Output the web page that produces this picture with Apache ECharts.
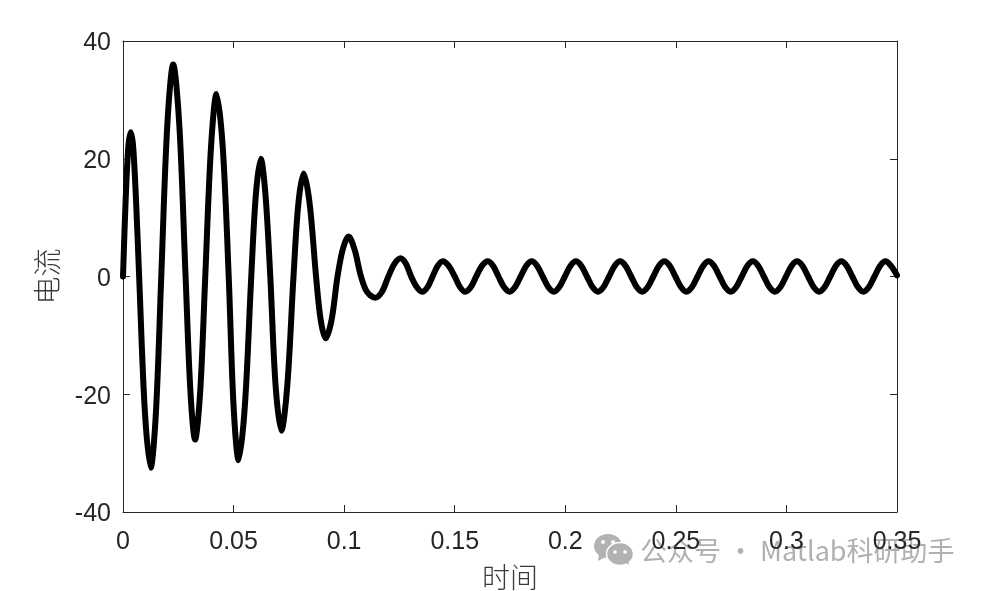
<!DOCTYPE html>
<html><head><meta charset="utf-8">
<style>html,body{margin:0;padding:0;background:#fff}#c{width:989px;height:591px}</style>
<script src="https://cdn.jsdelivr.net/npm/echarts@6/dist/echarts.min.js"></script>
</head><body><div id="c"></div>
<script>
const timeValues = [0,.0012,.0024,.0035,.0046,.006,.0073,.0099,.0125,.0149,.0173,.0200,.0227,.0255,.0283,.0305,.0326,.0349,.0372,.0398,.0423,.0451,.0478,.05,.0523,.0551,.058,.0601,.0623,.0644,.0666,.069,.0716,.0743,.0771,.0793,.0817,.0844,.0873,.0894,.0916,.0943,.097,.0995,.102,.1047,.1074,.1097,.1118,.1142,.1171,.12,.1228,.1255,.1279,.1303,.1328,.1353,.1377,.14,.1423,.1446,.1473,.15,.1524,.1548,.1573,.1597,.1623,.1649,.1674,.1698,.1723,.1748,.1773,.1798,.1823,.1848,.1873,.1898,.1923,.1948,.1973,.1998,.2023,.2048,.2073,.2098,.2123,.2148,.2173,.2198,.2223,.2248,.2273,.2298,.2323,.2348,.2373,.2398,.2423,.2448,.2473,.2498,.2523,.2548,.2573,.2598,.2623,.2648,.2673,.2698,.2723,.2748,.2773,.2798,.2823,.2848,.2873,.2898,.2923,.2948,.2973,.2998,.3023,.3048,.3073,.3098,.3123,.3148,.3173,.3198,.3223,.3248,.3273,.3298,.3323,.3348,.3373,.3398,.3423,.3448,.3473,.35];
const currentValues = [0,13,22,24.5,22,12,0,-23,-32.5,-23,0,25.5,36,25.5,0,-19.6,-27.7,-19.6,0,22,31,22,0,-22,-31.2,-22,0,14,20,14,0,-18.5,-26.2,-18.5,0,12.4,17.5,12.4,0,-7.4,-10.5,-7.4,0,4.8,6.8,4.6,0.3,-2.2,-3.2,-3.6,-2.6,0,2.2,3.1,2.2,0,-1.8,-2.6,-1.8,0,1.8,2.6,1.8,0,-1.8,-2.6,-1.8,0,1.8,2.6,1.8,0,-1.8,-2.6,-1.8,0,1.8,2.6,1.8,0,-1.8,-2.6,-1.8,0,1.8,2.6,1.8,0,-1.8,-2.6,-1.8,0,1.8,2.6,1.8,0,-1.8,-2.6,-1.8,0,1.8,2.6,1.8,0,-1.8,-2.6,-1.8,0,1.8,2.6,1.8,0,-1.8,-2.6,-1.8,0,1.8,2.6,1.8,0,-1.8,-2.6,-1.8,0,1.8,2.6,1.8,0,-1.8,-2.6,-1.8,0,1.8,2.6,1.8,0,-1.8,-2.6,-1.8,0,1.8,2.6,1.8,0.2];
const xAxisName = '时间';
const yAxisName = '电流';
const watermarkText = '公众号 · Matlab科研助手';

const ink = '#262626', grey = '#b2b2b2';
const tickFont = {color: ink, fontSize: 25, fontFamily: '"Liberation Sans", Arial, sans-serif'};
const nameFont = {color: '#3a3a3a', fontSize: 28, fontFamily: '"Noto Sans CJK SC"', fontWeight: 300};
const line = {show: true, onZero: false, lineStyle: {color: ink, width: 1}};
const tick = {show: true, inside: true, length: 7, lineStyle: {color: ink, width: 1}};

const chart = echarts.init(document.getElementById('c'), null, {renderer: 'canvas'});
const xBase = {type: 'value', min: 0, max: 0.35, interval: 0.05, splitLine: {show: false}, axisLine: line, axisTick: tick};
const yBase = {type: 'value', min: -40, max: 40, interval: 20, splitLine: {show: false}, axisLine: line, axisTick: tick};
chart.setOption({
  animation: false,
  backgroundColor: '#fff',
  grid: {left: 123, right: 92, top: 41, bottom: 79, containLabel: false, outerBoundsMode: 'none'},
  xAxis: [
    Object.assign({}, xBase, {position: 'bottom', name: xAxisName, nameLocation: 'middle', nameGap: 51, nameTextStyle: nameFont,
      axisLabel: Object.assign({margin: 18, hideOverlap: false}, tickFont)}),
    Object.assign({}, xBase, {position: 'top', axisLabel: {show: false}})
  ],
  yAxis: [
    Object.assign({}, yBase, {position: 'left', name: yAxisName, nameLocation: 'middle', nameGap: 62, nameRotate: 90, nameTextStyle: nameFont,
      axisLabel: Object.assign({margin: 12, verticalAlign: 'top', padding: [-10, 0, 0, 0]}, tickFont)}),
    Object.assign({}, yBase, {position: 'right', axisLabel: {show: false}})
  ],
  series: [{
    type: 'line',
    xAxisIndex: 0, yAxisIndex: 0,
    data: timeValues.map((t, i) => [t, currentValues[i]]),
    smooth: 0.33,
    showSymbol: false,
    clip: false,
    lineStyle: {color: '#000', width: 6, join: 'round', cap: 'round'},
    z: 3
  }],
  graphic: [
    {type: 'group', z: 100, children: [
      {type: 'ellipse', shape: {cx: 608, cy: 546, rx: 14, ry: 12}, style: {fill: grey}},
      {type: 'polygon', shape: {points: [[599,553],[598,561],[607,556]]}, style: {fill: grey}},
      {type: 'circle', shape: {cx: 603, cy: 542, r: 2}, style: {fill: '#fff'}},
      {type: 'circle', shape: {cx: 613, cy: 542, r: 2}, style: {fill: '#fff'}},
      {type: 'ellipse', shape: {cx: 620, cy: 554, rx: 13.5, ry: 11.5}, style: {fill: grey, stroke: '#fff', lineWidth: 1.5}},
      {type: 'polygon', shape: {points: [[625,562],[629,565],[628,558]]}, style: {fill: grey}},
      {type: 'circle', shape: {cx: 615, cy: 552, r: 1.8}, style: {fill: '#fff'}},
      {type: 'circle', shape: {cx: 625, cy: 552, r: 1.8}, style: {fill: '#fff'}},
      {type: 'text', x: 640, y: 551, style: {text: watermarkText, fill: 'rgba(150,150,150,0.75)', font: '27px "Noto Sans CJK SC"', textVerticalAlign: 'middle', textAlign: 'left'}}
    ]}
  ]
});
</script></body></html>
